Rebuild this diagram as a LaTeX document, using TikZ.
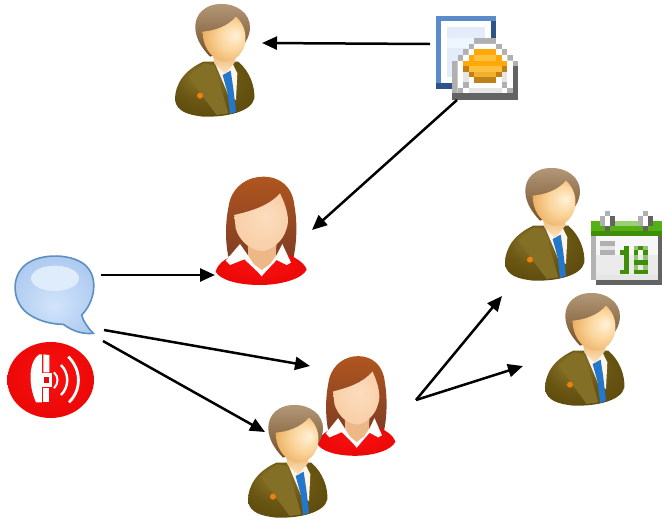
\documentclass[tikz,border=0pt]{standalone}
\usetikzlibrary{arrows.meta}
\definecolor{suitL}{HTML}{8F7A30}
\definecolor{suitM}{HTML}{6A5612}
\definecolor{suitD}{HTML}{4E3F0A}
\definecolor{bubL}{HTML}{D2E4FB}
\definecolor{bubM}{HTML}{AECBF0}
\definecolor{bubO}{HTML}{5D8FC0}
\definecolor{hairM}{HTML}{8A6030}
\definecolor{hairW}{HTML}{96482A}
\definecolor{wred}{HTML}{E80C0C}
\definecolor{docB}{HTML}{5B8BCB}
\definecolor{docD}{HTML}{2F5288}
\definecolor{docT}{HTML}{E4ECFC}
\definecolor{docM}{HTML}{EEF7FF}
\definecolor{envG}{HTML}{B0B0B0}
\definecolor{envD}{HTML}{636363}
\definecolor{calG}{HTML}{55B015}
\definecolor{calD}{HTML}{3F8E08}
\definecolor{coinA}{HTML}{FFA808}
\definecolor{coinB}{HTML}{FFC040}
\definecolor{coinC}{HTML}{C08018}
\definecolor{coinD}{HTML}{F0B030}
\definecolor{tieB}{HTML}{2478CC}
\definecolor{faceA}{HTML}{FFF2D8}
\definecolor{faceB}{HTML}{FBD49A}
\definecolor{faceC}{HTML}{E8A858}
\definecolor{faceD}{HTML}{B87830}
\definecolor{wfA}{HTML}{FCDDBE}
\definecolor{wfB}{HTML}{F8CFA8}
\definecolor{wfC}{HTML}{EDB888}
\definecolor{redA}{HTML}{F81010}
\definecolor{redB}{HTML}{EC0808}
\definecolor{redC}{HTML}{C80C0C}
\pgfdeclareradialshading{facesh}{\pgfpoint{0.45cm}{0.2cm}}{color(0cm)=(faceA);color(0.55cm)=(faceB);color(1.15cm)=(faceC);color(1.6cm)=(faceD)}
\pgfdeclareradialshading{wfacesh}{\pgfpoint{0.1cm}{0.2cm}}{color(0cm)=(wfA);color(0.9cm)=(wfB);color(1.6cm)=(wfC)}
\pgfdeclareradialshading{suitsh}{\pgfpoint{-0.3cm}{0.5cm}}{color(0cm)=(suitL);color(0.7cm)=(suitM);color(1.6cm)=(suitD)}
\pgfdeclareradialshading{redsh}{\pgfpoint{0cm}{0.2cm}}{color(0cm)=(redA);color(1cm)=(redB);color(1.6cm)=(redC)}
\pgfdeclareradialshading{bubsh}{\pgfpoint{0cm}{-0.3cm}}{color(0cm)=(bubL);color(0.9cm)=(bubM);color(1.6cm)=(bubM)}
\tikzset{
  link/.style={line width=2.5pt,-{Triangle[length=15pt,width=13pt]},black},
  zoomed/.style={x=0.3333pt,y=-0.3333pt}
}
\newcommand{\personman}{%
    \shade[shading=suitsh] (45,300) .. controls (45,250) and (75,210) .. (130,185)
      -- (235,185) .. controls (270,215) and (285,260) .. (283,295)
      .. controls (275,335) and (200,352) .. (130,350) .. controls (85,345) and (50,335) .. (45,300) -- cycle;
    \fill[suitL!70!suitM] (132,190) -- (163,195) -- (205,340) -- (170,345) -- (122,280) -- (85,228) -- cycle;
    \fill[white!92!orange] (163,185) -- (215,185) -- (232,220) -- (228,300) -- (205,285) -- cycle;
    \fill[tieB] (188,225) -- (212,212) -- (220,265) -- (228,335) -- (210,342) -- (203,280) -- cycle;
    \fill[orange!75!brown] (120,287) circle (9);
    \shade[top color=hairM!65!white,bottom color=hairM!85!black] (106,85)
      .. controls (103,40) and (140,12) .. (180,12) .. controls (230,10) and (272,40) .. (270,85)
      .. controls (268,110) and (258,125) .. (250,135) -- (150,170) .. controls (122,140) and (108,115) .. (106,85) -- cycle;
    \shade[top color=faceC,bottom color=faceB!60!white] (155,140) -- (228,140) -- (226,185) -- (195,222) -- (163,190) -- cycle;
    \shade[shading=facesh] (128,95) .. controls (165,92) and (205,78) .. (228,50)
      .. controls (250,70) and (262,100) .. (254,135) .. controls (244,170) and (215,190) .. (185,183)
      .. controls (148,172) and (128,135) .. (128,95) -- cycle;
}
\newcommand{\personwoman}{%
    \shade[top color=hairW!75!orange,bottom color=hairW!85!black] (70,260)
      .. controls (60,210) and (60,150) .. (75,90) .. controls (90,45) and (130,20) .. (175,20)
      .. controls (225,20) and (262,50) .. (268,105) .. controls (278,160) and (275,220) .. (265,265) -- cycle;
    \fill[wfC] (128,205) -- (215,205) -- (212,270) -- (170,300) -- (130,270) -- cycle;
    \shade[shading=redsh] (32,305) .. controls (40,275) and (70,262) .. (108,245)
      -- (170,320) -- (232,245) .. controls (270,262) and (295,275) .. (305,298)
      .. controls (295,325) and (230,345) .. (165,345) .. controls (100,345) and (45,330) .. (32,305) -- cycle;
    \fill[white!95!pink] (105,222) -- (62,272) -- (75,285) -- (118,268) -- (165,312) -- (128,255) -- cycle;
    \fill[white!95!pink] (232,222) -- (258,278) -- (245,285) -- (215,270) -- (175,312) -- (215,255) -- cycle;
    \shade[shading=wfacesh] (88,135) .. controls (130,125) and (190,110) .. (225,70)
      .. controls (245,110) and (255,150) .. (245,175) .. controls (235,215) and (195,245) .. (168,243)
      .. controls (130,240) and (100,205) .. (92,175) -- cycle;
}
\begin{document}
\begin{tikzpicture}[x=1pt,y=-1pt]
\useasboundingbox (0,0) rectangle (662,520);
\fill[white] (0,0) rectangle (662,520);

% people
\begin{scope}[shift={(160,0)},zoomed]\personman\end{scope}
\begin{scope}[shift={(490,164)},zoomed]\personman\end{scope}
\begin{scope}[shift={(530,289)},zoomed]\personman\end{scope}
\begin{scope}[shift={(205,170)},zoomed]\personwoman\end{scope}
\begin{scope}[shift={(308,350)},xscale=0.86,yscale=0.92,zoomed]\personwoman\end{scope}
\begin{scope}[shift={(233,401)},zoomed]\personman\end{scope}

% document + envelope
\begin{scope}[shift={(425,5)},zoomed]
\fill[docB] (33,33) rectangle (213,235);
\fill[docD] (197,48) rectangle (213,150);
\fill[docD] (33,235) rectangle (115,252);
\fill[white] (48,48) rectangle (197,235);
\fill[docT] (66,66) rectangle (180,100);
\fill[docM] (66,100) rectangle (180,130);
\fill[docT] (66,130) rectangle (180,215);
\fill[envG] (147,99) rectangle (213,117);
\fill[envG] (131,117) rectangle (147,133);
\fill[envG] (115,133) rectangle (131,150);
\fill[envG] (98,150) rectangle (115,168);
\fill[envG] (80,168) rectangle (98,265);
\fill[envG] (213,117) rectangle (230,133);
\fill[envG] (230,133) rectangle (247,150);
\fill[envG] (247,150) rectangle (263,167);
\fill[envG] (263,167) rectangle (280,183);
\fill[white] (147,117) -- (213,117) -- (213,133) -- (230,133) -- (230,150) -- (247,150) -- (247,167) -- (263,167) -- (263,265) -- (98,265) -- (98,168) -- (115,168) -- (115,150) -- (131,150) -- (131,133) -- (147,133) -- cycle;
\fill[envG] (98,248) rectangle (115,265);
\fill[envG] (115,232) rectangle (131,250);
\fill[envG] (230,232) rectangle (247,250);
\fill[envG] (247,248) rectangle (263,265);
\fill[white!90!black] (115,200) rectangle (131,232);
\fill[white!90!black] (230,200) rectangle (247,232);
\fill[white!90!black] (131,250) rectangle (230,265);
\fill[envD] (80,265) rectangle (280,285);
\fill[envD] (263,183) rectangle (280,285);
% coin
\fill[coinA] (148,132) rectangle (213,150);
\fill[coinA] (131,150) rectangle (230,167);
\fill[coinA] (115,167) rectangle (247,183);
\fill[coinC] (115,183) rectangle (247,200);
\fill[coinC] (131,200) rectangle (230,216);
\fill[coinC] (147,216) rectangle (213,233);
\fill[coinB] (148,150) rectangle (213,167);
\fill[coinB] (131,183) rectangle (230,200);
\fill[coinD] (147,200) rectangle (213,216);
\end{scope}

% calendar
\begin{scope}[shift={(585,205)},zoomed]
\fill[calG] (18,48) rectangle (232,78);
\fill[calG!60!white] (75,48) rectangle (175,64);
\fill[calD] (18,78) rectangle (232,93);
\fill[white!97!black] (33,93) rectangle (218,150);
\fill[white!92!black] (33,150) rectangle (218,210);
\fill[white!70!black] (18,93) rectangle (33,225);
\fill[envD] (218,93) rectangle (232,225);
\fill[white!80!gray] (33,210) rectangle (218,225);
\fill[envD] (33,225) rectangle (232,240);
\fill[envG] (60,18) rectangle (75,33);
\fill[envG] (175,18) rectangle (190,33);
\fill[envG] (45,33) rectangle (60,64);
\fill[envD] (75,33) rectangle (90,64);
\fill[white] (60,33) rectangle (75,64);
\fill[envD] (60,64) rectangle (75,78);
\fill[envG] (160,33) rectangle (175,64);
\fill[envD] (190,33) rectangle (205,64);
\fill[white] (175,33) rectangle (190,64);
\fill[envD] (175,64) rectangle (190,78);
\fill[envG] (45,108) rectangle (90,122);
\fill[white!80!gray] (45,122) rectangle (90,136);
\fill[envG] (45,136) rectangle (90,150);
\fill[calD] (118,122) rectangle (132,195);
\fill[calD] (104,136) rectangle (118,150);
\fill[calD] (104,195) rectangle (132,208);
\fill[calD] (146,122) rectangle (190,136);
\fill[calD] (146,136) rectangle (160,195);
\fill[calD] (175,136) rectangle (190,195);
\fill[calD] (146,165) rectangle (190,180);
\fill[calD] (146,195) rectangle (190,208);
\fill[calD!55!white] (146,122) rectangle (160,136);
\fill[calD!55!white] (175,122) rectangle (190,136);
\fill[calD!55!white] (146,150) rectangle (160,165);
\fill[calD!55!white] (175,150) rectangle (190,165);
\fill[calD!55!white] (146,180) rectangle (160,195);
\fill[calD!55!white] (175,180) rectangle (190,195);
\end{scope}

% speech bubble
\begin{scope}[shift={(0,245)},zoomed]
\shade[shading=bubsh,draw=bubO,line width=1.6pt] (245,210)
  .. controls (285,170) and (295,100) .. (260,65)
  .. controls (225,25) and (115,20) .. (70,65)
  .. controls (30,105) and (40,180) .. (90,210)
  .. controls (120,230) and (160,238) .. (190,238)
  .. controls (220,260) and (250,268) .. (280,265)
  .. controls (265,250) and (250,230) .. (245,210) -- cycle;
\fill[bubL!70!white] (165,100) ellipse (72 and 38);
\end{scope}

% phone
\begin{scope}[shift={(0,245)},zoomed]
\shade[shading=redsh] (152,405) ellipse (130 and 114);
\fill[white] (118,328) .. controls (88,345) and (82,415) .. (108,472)
  -- (126,472) -- (126,328) -- cycle;
\fill[white] (130,328) -- (148,330) -- (148,382) -- (130,382) -- cycle;
\fill[white] (130,428) -- (148,428) -- (148,472) -- (130,472) -- cycle;
\fill[white] (122,385) rectangle (155,425);
\fill[wred] (132,396) rectangle (147,414);
\draw[white,line width=2pt] (162,382) .. controls (176,395) and (176,415) .. (162,430);
\draw[white,line width=2.4pt] (183,360) .. controls (208,385) and (208,425) .. (183,450);
\draw[white,line width=2.8pt] (205,335) .. controls (245,375) and (245,435) .. (207,472);
\end{scope}

% connector ends
\coordinate (docW) at (430,44);
\coordinate (man1E) at (262,43);
\coordinate (envSW) at (457,100);
\coordinate (woman1E) at (312,230);
\coordinate (bubE) at (101,275);
\coordinate (woman1W) at (215,275);
\coordinate (bubSE) at (104,330);
\coordinate (woman2W) at (310,366);
\coordinate (phoneNE) at (103,341);
\coordinate (man4W) at (265,432);
\coordinate (fork) at (416,400);
\coordinate (man2SW) at (502,296);
\coordinate (man3W) at (523,366);

\draw[link] (docW) -- (man1E);
\draw[link] (envSW) -- (woman1E);
\draw[link] (bubE) -- (woman1W);
\draw[link] (bubSE) -- (woman2W);
\draw[link] (phoneNE) -- (man4W);
\draw[link] (fork) -- (man2SW);
\draw[link] (fork) -- (man3W);
\end{tikzpicture}
\end{document}
